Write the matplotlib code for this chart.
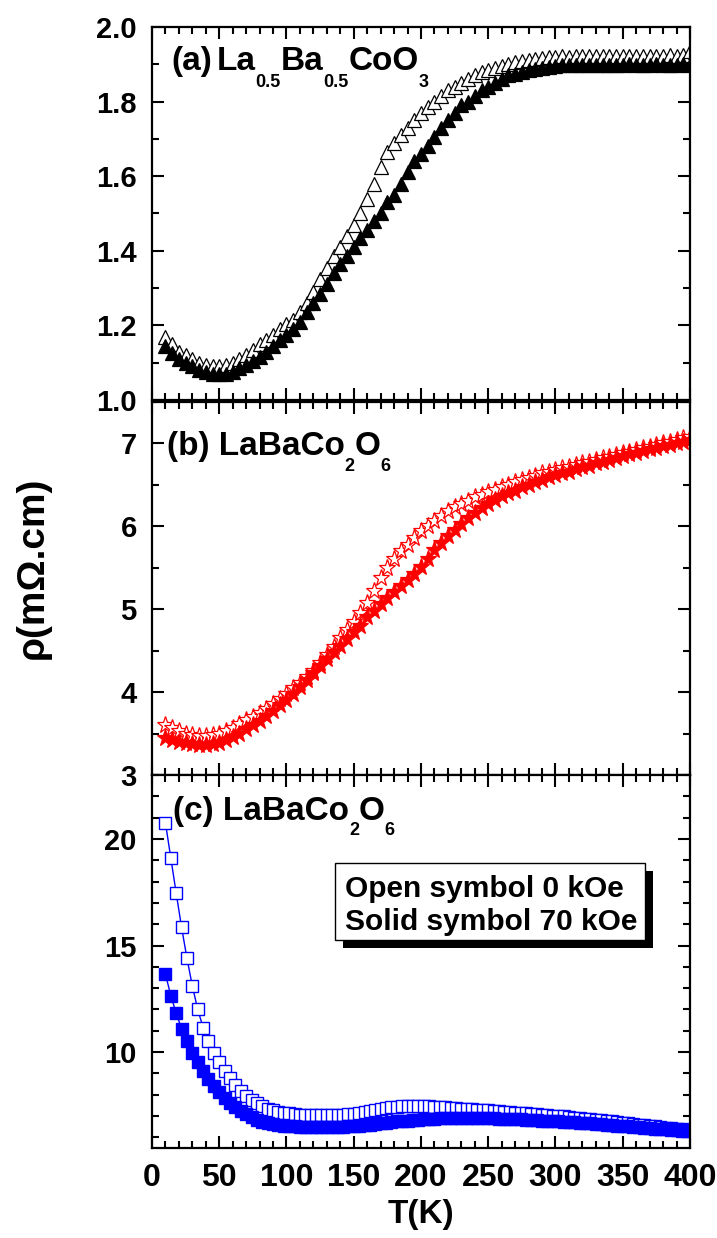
import matplotlib
matplotlib.use('Agg')
import matplotlib.pyplot as plt
import matplotlib.transforms as mtransforms
from matplotlib.ticker import MultipleLocator, FormatStrFormatter
from matplotlib.patches import Rectangle

plt.rcParams['font.family'] = ['Liberation Sans', 'DejaVu Sans']
plt.rcParams['font.weight'] = 'bold'

# ---------------- data ----------------
T_ab = [10, 15, 20, 25, 30, 35, 40, 45, 50, 55, 60, 65, 70, 75, 80, 85, 90, 95, 100,
        105, 110, 115, 120, 125, 130, 135, 140, 145, 150, 155, 160, 165, 170, 175, 180,
        185, 190, 195, 200, 205, 210, 215, 220, 225, 230, 235, 240, 245, 250, 255, 260,
        265, 270, 275, 280, 285, 290, 295, 300, 305, 310, 315, 320, 325, 330, 335, 340,
        345, 350, 355, 360, 365, 370, 375, 380, 385, 390, 395, 400]

rho_a_0kOe = [1.17, 1.15, 1.13, 1.12, 1.11, 1.10, 1.095, 1.09, 1.09, 1.095, 1.10, 1.11,
              1.12, 1.135, 1.15, 1.16, 1.175, 1.19, 1.205, 1.215, 1.235, 1.26, 1.29,
              1.325, 1.355, 1.385, 1.41, 1.44, 1.47, 1.50, 1.54, 1.58, 1.625, 1.665,
              1.69, 1.71, 1.73, 1.75, 1.77, 1.785, 1.80, 1.815, 1.83, 1.84, 1.85, 1.86,
              1.87, 1.88, 1.885, 1.89, 1.895, 1.90, 1.905, 1.91, 1.912, 1.915, 1.917,
              1.919, 1.92, 1.921, 1.92, 1.922, 1.921, 1.922, 1.923, 1.921, 1.922, 1.923,
              1.922, 1.921, 1.923, 1.922, 1.921, 1.923, 1.922, 1.924, 1.923, 1.925, 1.935]

rho_a_70kOe = [1.145, 1.125, 1.11, 1.10, 1.09, 1.08, 1.075, 1.07, 1.07, 1.07, 1.075,
               1.085, 1.095, 1.105, 1.115, 1.13, 1.145, 1.16, 1.175, 1.19, 1.21, 1.235,
               1.26, 1.285, 1.31, 1.34, 1.365, 1.385, 1.41, 1.435, 1.455, 1.48, 1.50,
               1.53, 1.55, 1.58, 1.61, 1.64, 1.66, 1.68, 1.705, 1.73, 1.75, 1.77, 1.79,
               1.80, 1.815, 1.83, 1.84, 1.85, 1.86, 1.87, 1.875, 1.88, 1.885, 1.888,
               1.89, 1.893, 1.895, 1.897, 1.897, 1.898, 1.898, 1.899, 1.898, 1.899,
               1.899, 1.898, 1.899, 1.900, 1.899, 1.898, 1.899, 1.900, 1.899, 1.898,
               1.899, 1.900, 1.899]

rho_b_0kOe = [3.60, 3.57, 3.53, 3.50, 3.48, 3.47, 3.47, 3.48, 3.50, 3.53, 3.57, 3.61,
              3.66, 3.70, 3.75, 3.80, 3.86, 3.92, 3.98, 4.05, 4.11, 4.18, 4.26, 4.35,
              4.45, 4.55, 4.65, 4.75, 4.85, 4.95, 5.08, 5.22, 5.38, 5.50, 5.60, 5.70,
              5.78, 5.86, 5.94, 6.00, 6.07, 6.13, 6.18, 6.23, 6.27, 6.31, 6.35, 6.38,
              6.41, 6.44, 6.47, 6.50, 6.53, 6.56, 6.58, 6.61, 6.64, 6.66, 6.68, 6.70,
              6.72, 6.74, 6.76, 6.78, 6.80, 6.82, 6.84, 6.86, 6.88, 6.90, 6.92, 6.94,
              6.96, 6.98, 7.00, 7.02, 7.04, 7.06, 7.08]

rho_b_70kOe = [3.45, 3.42, 3.40, 3.38, 3.37, 3.36, 3.36, 3.37, 3.39, 3.42, 3.46, 3.50,
               3.55, 3.60, 3.65, 3.71, 3.77, 3.84, 3.91, 3.98, 4.06, 4.14, 4.23, 4.32,
               4.40, 4.48, 4.56, 4.64, 4.72, 4.80, 4.90, 4.98, 5.06, 5.13, 5.21, 5.28,
               5.35, 5.43, 5.51, 5.61, 5.71, 5.80, 5.88, 5.96, 6.03, 6.10, 6.16, 6.22,
               6.27, 6.32, 6.36, 6.40, 6.43, 6.47, 6.50, 6.53, 6.56, 6.59, 6.62, 6.64,
               6.66, 6.69, 6.71, 6.73, 6.76, 6.78, 6.80, 6.83, 6.85, 6.87, 6.89, 6.91,
               6.93, 6.95, 6.97, 6.98, 7.00, 7.02, 7.04]

T_c = [10, 14, 18, 22, 26, 30, 34, 38, 42, 46, 50, 54, 58, 62, 66, 70, 74, 78, 82, 86,
       90, 94, 98, 102, 106, 110, 114, 118, 122, 126, 130, 134, 138, 142, 146, 150, 154,
       158, 162, 166, 170, 174, 178, 182, 186, 190, 194, 198, 202, 206, 210, 214, 218,
       222, 226, 230, 234, 238, 242, 246, 250, 254, 258, 262, 266, 270, 274, 278, 282,
       286, 290, 294, 298, 302, 306, 310, 314, 318, 322, 326, 330, 334, 338, 342, 346,
       350, 354, 358, 362, 366, 370, 374, 378, 382, 386, 390, 394, 398]

rho_c_0kOe = [20.75, 19.1, 17.45, 15.85, 14.4, 13.1, 12.0, 11.15, 10.5, 9.97, 9.52, 9.12,
              8.78, 8.46, 8.18, 7.94, 7.75, 7.6, 7.47, 7.35, 7.27, 7.21, 7.16, 7.12,
              7.09, 7.07, 7.06, 7.05, 7.05, 7.05, 7.05, 7.05, 7.06, 7.07, 7.08, 7.10,
              7.13, 7.17, 7.22, 7.28, 7.33, 7.37, 7.41, 7.44, 7.46, 7.47, 7.47, 7.47,
              7.46, 7.45, 7.44, 7.43, 7.41, 7.39, 7.37, 7.35, 7.33, 7.31, 7.29, 7.28,
              7.26, 7.24, 7.22, 7.20, 7.18, 7.16, 7.14, 7.12, 7.10, 7.08, 7.06, 7.04,
              7.02, 7.00, 6.98, 6.96, 6.93, 6.91, 6.88, 6.86, 6.83, 6.80, 6.78, 6.75,
              6.72, 6.69, 6.66, 6.63, 6.60, 6.57, 6.54, 6.51, 6.48, 6.45, 6.42, 6.40,
              6.38, 6.36]

rho_c_70kOe = [13.65, 12.65, 11.82, 11.1, 10.5, 9.98, 9.52, 9.12, 8.75, 8.42, 8.12, 7.85,
               7.62, 7.42, 7.24, 7.08, 6.94, 6.82, 6.73, 6.66, 6.61, 6.58, 6.55, 6.53,
               6.51, 6.50, 6.49, 6.48, 6.48, 6.48, 6.48, 6.48, 6.49, 6.50, 6.51, 6.52,
               6.54, 6.57, 6.60, 6.63, 6.66, 6.69, 6.72, 6.75, 6.77, 6.79, 6.81, 6.83,
               6.85, 6.87, 6.88, 6.89, 6.90, 6.91, 6.92, 6.92, 6.92, 6.92, 6.92, 6.91,
               6.90, 6.89, 6.88, 6.87, 6.86, 6.85, 6.84, 6.83, 6.82, 6.80, 6.79, 6.78,
               6.76, 6.75, 6.73, 6.72, 6.70, 6.68, 6.67, 6.65, 6.63, 6.61, 6.59, 6.57,
               6.55, 6.53, 6.51, 6.49, 6.47, 6.45, 6.43, 6.41, 6.39, 6.37, 6.35, 6.33,
               6.32, 6.31]

xticks = [0, 50, 100, 150, 200, 250, 300, 350, 400]
legend_lines = ['Open symbol 0 kOe', 'Solid symbol 70 kOe']

# ---------------- figure ----------------
fig = plt.figure(figsize=(7.17, 12.38), dpi=100)
L, W, H = 0.2120, 0.7503, 0.3013
ax_a = fig.add_axes([L, 0.6769, W, H])
ax_b = fig.add_axes([L, 0.3740, W, H])
ax_c = fig.add_axes([L, 0.0727, W, H])

# panel a
ax_a.plot(T_ab, rho_a_0kOe, ls='none', marker='^', ms=10, mfc='white', mec='black', mew=0.9)
ax_a.plot(T_ab, rho_a_70kOe, ls='none', marker='^', ms=10, mfc='black', mec='black', mew=0.9)
ax_a.set_ylim(1.0, 2.0)
ax_a.yaxis.set_major_locator(MultipleLocator(0.2))
ax_a.yaxis.set_minor_locator(MultipleLocator(0.1))
ax_a.yaxis.set_major_formatter(FormatStrFormatter('%.1f'))

# panel b
ax_b.plot(T_ab, rho_b_0kOe, ls='none', marker='*', ms=12.5, mfc='white', mec='red', mew=0.9)
ax_b.plot(T_ab, rho_b_70kOe, ls='none', marker='*', ms=12.5, mfc='red', mec='red', mew=0.9)
ax_b.set_ylim(3.0, 7.5)
ax_b.yaxis.set_major_locator(MultipleLocator(1))
ax_b.yaxis.set_minor_locator(MultipleLocator(0.5))

# panel c
ax_c.plot(T_c, rho_c_0kOe, ls='-', lw=1.0, color='blue', marker='s', ms=9,
          mfc='white', mec='blue', mew=1.0)
ax_c.plot(T_c, rho_c_70kOe, ls='-', lw=1.0, color='blue', marker='s', ms=9,
          mfc='blue', mec='blue', mew=1.0)
ax_c.set_ylim(5.5, 23)
ax_c.yaxis.set_major_locator(MultipleLocator(5))
ax_c.yaxis.set_minor_locator(MultipleLocator(1))

for ax in (ax_a, ax_b, ax_c):
    ax.set_xlim(0, 400)
    ax.set_xticks(xticks)
    ax.xaxis.set_minor_locator(MultipleLocator(10))
    ax.tick_params(which='both', direction='in', top=True, right=True, width=1.5)
    ax.tick_params(which='major', length=8.5, pad=11)
    ax.tick_params(which='minor', length=5)
    ax.tick_params(axis='y', labelsize=21)
    ax.tick_params(axis='x', labelsize=23)
    for s in ax.spines.values():
        s.set_linewidth(1.6)
    for lab in ax.get_xticklabels() + ax.get_yticklabels():
        lab.set_fontweight('bold')

ax_a.tick_params(axis='x', labelbottom=False)
ax_b.tick_params(axis='x', labelbottom=False)

ax_c.set_xlabel('T(K)', fontsize=24, fontweight='bold', labelpad=4)
fig.text(0.045, 0.541, 'ρ(mΩ.cm)', rotation=90, fontsize=28, fontweight='bold',
         ha='center', va='center')

# ---------------- panel labels with subscripts ----------------
renderer = fig.canvas.get_renderer()


def rich_label(ax, x, y, parts, size, subsize, subdrop):
    dx = 0.0
    for text, kind in parts:
        if kind == 'gap':
            dx += text
            continue
        sub = kind == 'sub'
        tr = mtransforms.offset_copy(ax.transAxes, fig=fig, x=dx,
                                     y=(-subdrop if sub else 0), units='dots')
        t = ax.text(x, y, text, transform=tr, fontsize=(subsize if sub else size),
                    fontweight='bold', ha='left', va='baseline')
        dx += t.get_window_extent(renderer).width


rich_label(ax_a, 0.0366, 0.885,
           [('(a)', 'n'), (4, 'gap'), ('La', 'n'), ('0.5', 'sub'), ('Ba', 'n'),
            ('0.5', 'sub'), ('CoO', 'n'), ('3', 'sub')], 24, 13, 17)
rich_label(ax_b, 0.0273, 0.858,
           [('(b) LaBaCo', 'n'), ('2', 'sub'), ('O', 'n'), ('6', 'sub')], 24, 13, 16)
rich_label(ax_c, 0.039, 0.879,
           [('(c) LaBaCo', 'n'), ('2', 'sub'), ('O', 'n'), ('6', 'sub')], 24, 13, 15)

# ---------------- legend box with shadow ----------------
bx0, bx1, by0, by1 = 0.340, 0.916, 0.558, 0.765
sdx, sdy = 0.0158, 0.0228
ax_c.add_patch(Rectangle((bx0 + sdx, by0 - sdy), bx1 - bx0, by1 - by0,
                         transform=ax_c.transAxes, facecolor='black', edgecolor='black',
                         lw=0, zorder=5))
ax_c.add_patch(Rectangle((bx0, by0), bx1 - bx0, by1 - by0, transform=ax_c.transAxes,
                         facecolor='white', edgecolor='black', lw=1.0, zorder=6))
ax_c.text(0.359, 0.674, legend_lines[0], transform=ax_c.transAxes, fontsize=21.5,
          fontweight='bold', ha='left', va='baseline', zorder=7)
ax_c.text(0.359, 0.584, legend_lines[1], transform=ax_c.transAxes, fontsize=21.5,
          fontweight='bold', ha='left', va='baseline', zorder=7)

fig.savefig('out.png', dpi=100)
